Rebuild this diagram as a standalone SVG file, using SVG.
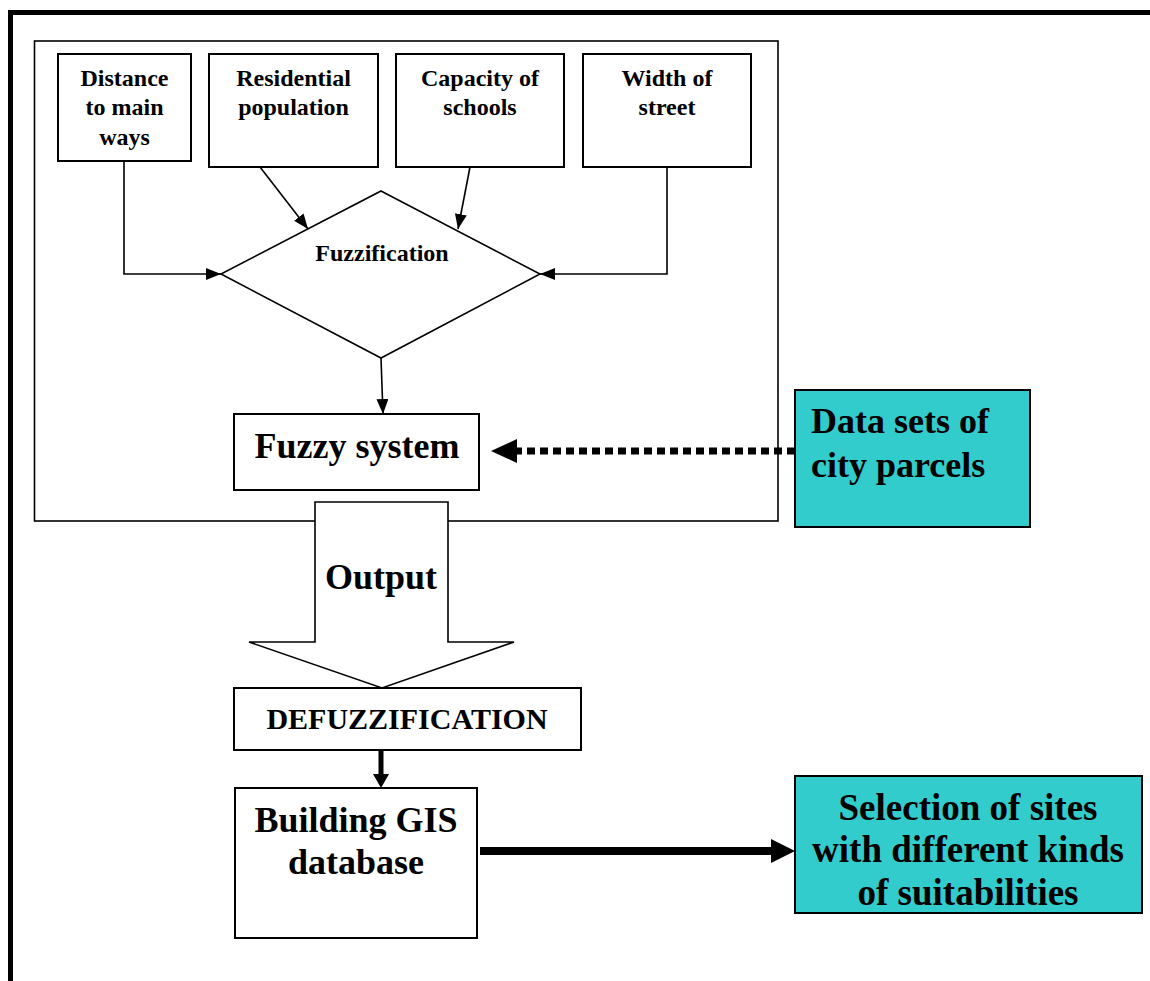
<svg xmlns="http://www.w3.org/2000/svg" width="1150" height="981" viewBox="0 0 1150 981">
<style>
.t{font-family:"Liberation Serif","Times New Roman",serif;font-weight:bold;fill:#000;text-anchor:middle}
.s24{font-size:24px}
.s36{font-size:36px}
.box{fill:#fff;stroke:#000;stroke-width:2}
.cyan{fill:#33CCCC;stroke:#000;stroke-width:2}
.ln{fill:none;stroke:#000;stroke-width:1.6}
</style>
<defs>
<marker id="ah" markerUnits="userSpaceOnUse" markerWidth="16" markerHeight="12" refX="15" refY="6" orient="auto">
<path d="M0,0 L15,6 L0,12 z" fill="#000"/>
</marker>
</defs>
<rect width="1150" height="981" fill="#fff"/>
<rect id="frame" x="10.5" y="12.5" width="1200" height="1000" fill="none" stroke="#000" stroke-width="5"/>
<rect id="container" x="34.5" y="41" width="743.5" height="480" fill="none" stroke="#000" stroke-width="1.6"/>

<g id="connectors">
<polyline class="ln" points="124,161 124,274 221,274" marker-end="url(#ah)"/>
<line class="ln" x1="260" y1="167" x2="308" y2="229" marker-end="url(#ah)"/>
<line class="ln" x1="470" y1="167" x2="458" y2="229" marker-end="url(#ah)"/>
<polyline class="ln" points="667,167 667,274 540,274" marker-end="url(#ah)"/>
<line class="ln" x1="381" y1="358" x2="383" y2="414" marker-end="url(#ah)"/>
<line x1="795" y1="451" x2="516" y2="451" stroke="#000" stroke-width="7" stroke-dasharray="8 5"/>
<polygon points="491,451 517,439 517,463" fill="#000"/>
<line x1="381" y1="750" x2="381" y2="775" stroke="#000" stroke-width="5"/>
<polygon points="381,788 373,774 389,774" fill="#000"/>
<line x1="480" y1="851" x2="772" y2="851" stroke="#000" stroke-width="8"/>
<polygon points="795,851 771,839 771,863" fill="#000"/>
</g>

<g id="n-distance">
<rect class="box" x="58" y="54" width="133" height="107"/>
<text class="t s24" x="124.5" y="86">Distance</text>
<text class="t s24" x="124.5" y="115">to main</text>
<text class="t s24" x="124.5" y="145">ways</text>
</g>
<g id="n-residential">
<rect class="box" x="209" y="54" width="169" height="113"/>
<text class="t s24" x="293.5" y="86">Residential</text>
<text class="t s24" x="293.5" y="115">population</text>
</g>
<g id="n-capacity">
<rect class="box" x="396" y="54" width="168" height="113"/>
<text class="t s24" x="480" y="86">Capacity of</text>
<text class="t s24" x="480" y="115">schools</text>
</g>
<g id="n-width">
<rect class="box" x="583" y="54" width="168" height="113"/>
<text class="t s24" x="667" y="86">Width of</text>
<text class="t s24" x="667" y="115">street</text>
</g>
<g id="n-fuzzification">
<polygon points="381,191 540,274 381,358 221,274" fill="#fff" stroke="#000" stroke-width="1.6"/>
<text class="t s24" x="382" y="261">Fuzzification</text>
</g>
<g id="n-fuzzy">
<rect class="box" x="234" y="414" width="245" height="76"/>
<text class="t s36" x="357" y="458">Fuzzy system</text>
</g>
<g id="n-datasets">
<rect class="cyan" x="795" y="390" width="235" height="137"/>
<text class="t s36" x="811" y="433" style="text-anchor:start">Data sets of</text>
<text class="t s36" x="811" y="477" style="text-anchor:start">city parcels</text>
</g>
<g id="n-output">
<polygon points="315,502 448,502 448,642 514,642 382,688 249,642 315,642" fill="#fff" stroke="#000" stroke-width="1.6"/>
<text class="t s36" x="381" y="589">Output</text>
</g>
<g id="n-defuzz">
<rect class="box" x="234" y="688" width="347" height="62"/>
<text class="t" x="407" y="729" font-size="30">DEFUZZIFICATION</text>
</g>
<g id="n-building">
<rect class="box" x="235" y="788" width="242" height="150"/>
<text class="t s36" x="356" y="832">Building GIS</text>
<text class="t s36" x="356" y="874">database</text>
</g>
<g id="n-selection">
<rect class="cyan" x="795" y="776" width="347" height="137"/>
<text class="t" x="968" y="820" font-size="37">Selection of sites</text>
<text class="t" x="968" y="862" font-size="37">with different kinds</text>
<text class="t" x="968" y="905" font-size="37">of suitabilities</text>
</g>
</svg>
